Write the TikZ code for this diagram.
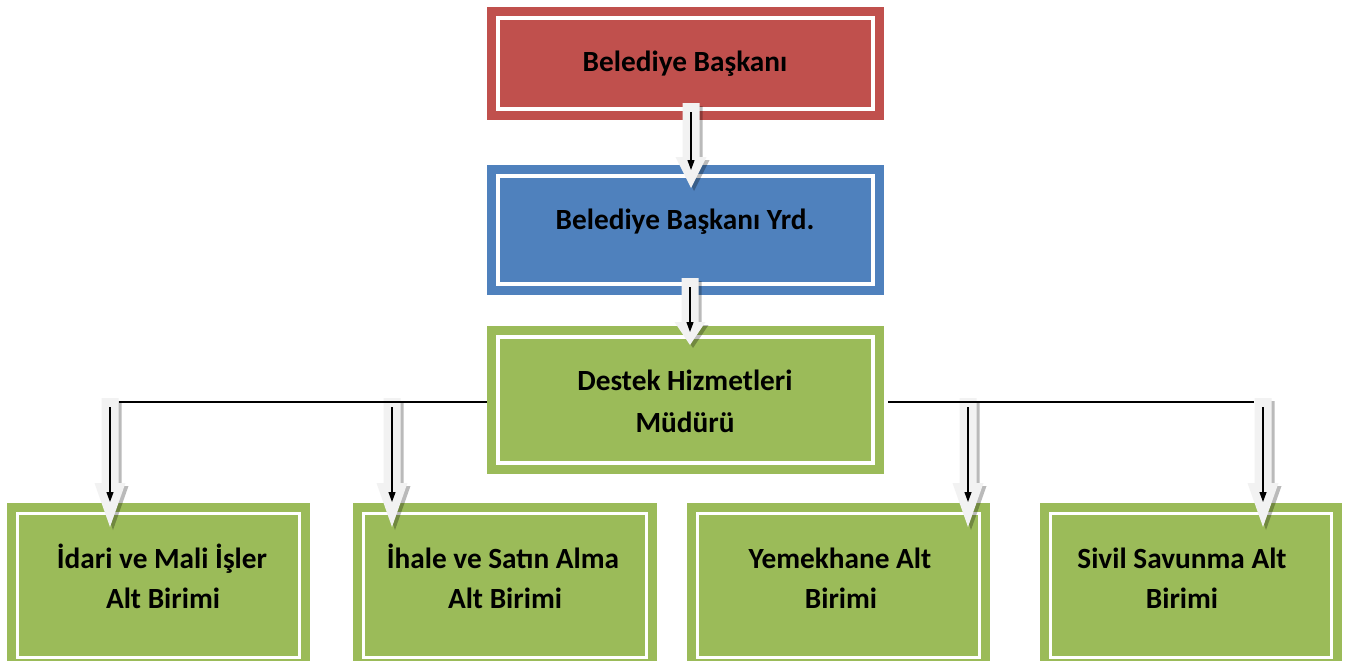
\documentclass[tikz,border=0pt]{standalone}
\usepackage{fontspec}
\setmainfont{Carlito}
\usetikzlibrary{calc,arrows.meta,fit}
\definecolor{bred}{HTML}{C0504D}
\definecolor{bblue}{HTML}{4F81BD}
\definecolor{bgreen}{HTML}{9BBB59}
\definecolor{arrfill}{HTML}{F2F2F2}
\tikzset{
  orgbox/.style={fill=#1, draw=none, inner sep=0pt},
  innerline/.style={draw=white, line width=3.5pt},
  lbl/.style={font=\bfseries\fontsize{29.3}{42}\selectfont, anchor=base, inner sep=0pt},
  thinarr/.style={-{Triangle[length=10pt,width=7pt]}, line width=1.2pt, black},
  arrshadow/.style={fill=black, opacity=0.27},
  arrbody/.style={fill=arrfill},
  hline/.style={line width=2pt, black},
}
% #1 name, #2 colour, #3 top-left, #4 bottom-right, #5 inset
\newcommand\orgrect[5]{%
  \node[orgbox=#2, fit={#3 #4}] (#1) {};
  \draw[innerline] ([xshift=#5,yshift=-#5]#1.north west) rectangle ([xshift=-#5,yshift=#5]#1.south east);
}
% #1 start, #2 tip, #3 head length, #4 dx, #5 dy, #6 style
\newcommand\arrpoly[6]{%
  \path[#6] let \p1=(#1), \p2=(#2) in
    (\x1-8.5pt+#4,\y1+#5) -- (\x1+8.5pt+#4,\y1+#5) -- (\x1+8.5pt+#4,\y2+#3+#5)
    -- (\x1+15.5pt+#4,\y2+#3+#5) -- (\x1+#4,\y2+#5) -- (\x1-15.5pt+#4,\y2+#3+#5)
    -- (\x1-8.5pt+#4,\y2+#3+#5) -- cycle;
}
% #1 start, #2 tip, #3 head length, #4 black tip offset
\newcommand\blockarrow[4]{%
  \arrpoly{#1}{#2}{#3}{3pt}{-3pt}{arrshadow}
  \arrpoly{#1}{#2}{#3}{0pt}{0pt}{arrbody}
  \draw[thinarr] ([yshift=-9pt]#1) -- ([yshift=#4]#2);
}
\begin{document}
\begin{tikzpicture}[x=1pt,y=-1pt]
  \fill[white] (0,0) rectangle (1349,661);
  \useasboundingbox (0,0) rectangle (1349,661);

  % boxes
  \orgrect{red}{bred}{(487,7)}{(884,120)}{11pt}
  \orgrect{blue}{bblue}{(487,165)}{(884,295)}{11pt}
  \orgrect{mid}{bgreen}{(487,326)}{(884,474)}{11pt}
  \orgrect{b1}{bgreen}{(7,503)}{(310,668)}{10.5pt}
  \orgrect{b2}{bgreen}{(353,503)}{(657,668)}{10.5pt}
  \orgrect{b3}{bgreen}{(687,503)}{(990,668)}{10.5pt}
  \orgrect{b4}{bgreen}{(1040,503)}{(1342,668)}{10.5pt}

  % texts
  \node[lbl] (tred) at (685,72) {Belediye Başkanı};
  \node[lbl] (tblue) at (685,229) {Belediye Başkanı Yrd.};
  \node[lbl] (tmid1) at (685,390) {Destek Hizmetleri};
  \node[lbl] (tmid2) at (685,432) {Müdürü};
  \node[lbl] (tb1a) at (162,568) {İdari ve Mali İşler};
  \node[lbl] (tb1b) at (163,608) {Alt Birimi};
  \node[lbl] (tb2a) at (503,568) {İhale ve Satın Alma};
  \node[lbl] (tb2b) at (505,608) {Alt Birimi};
  \node[lbl] (tb3a) at (840,568) {Yemekhane Alt};
  \node[lbl] (tb3b) at (841,608) {Birimi};
  \node[lbl] (tb4a) at (1182,568) {Sivil Savunma Alt};
  \node[lbl] (tb4b) at (1182,608) {Birimi};

  % arrow end points
  \coordinate (s1) at (691,103);  \coordinate (e1) at (691,188);
  \coordinate (s2) at (690,278);  \coordinate (e2) at (690,345);
  \coordinate (sb1) at (110,398); \coordinate (eb1) at (110,527);
  \coordinate (sb2) at (392,398); \coordinate (eb2) at (392,527);
  \coordinate (sb3) at (968,398); \coordinate (eb3) at (968,527);
  \coordinate (sb4) at (1263,398); \coordinate (eb4) at (1263,527);

  \blockarrow{s1}{e1}{31pt}{18pt}
  \blockarrow{s2}{e2}{23pt}{13pt}
  \blockarrow{sb1}{eb1}{44pt}{25pt}
  \blockarrow{sb2}{eb2}{44pt}{25pt}
  \blockarrow{sb3}{eb3}{44pt}{25pt}
  \blockarrow{sb4}{eb4}{44pt}{25pt}

  % horizontal connectors
  \coordinate (j1) at (119,402);
  \coordinate (j4) at (1254,402);
  \draw[hline] (j1) -- (mid.west |- j1);
  \draw[hline] ([xshift=4pt]mid.east |- j4) -- (j4);
\end{tikzpicture}
\end{document}
